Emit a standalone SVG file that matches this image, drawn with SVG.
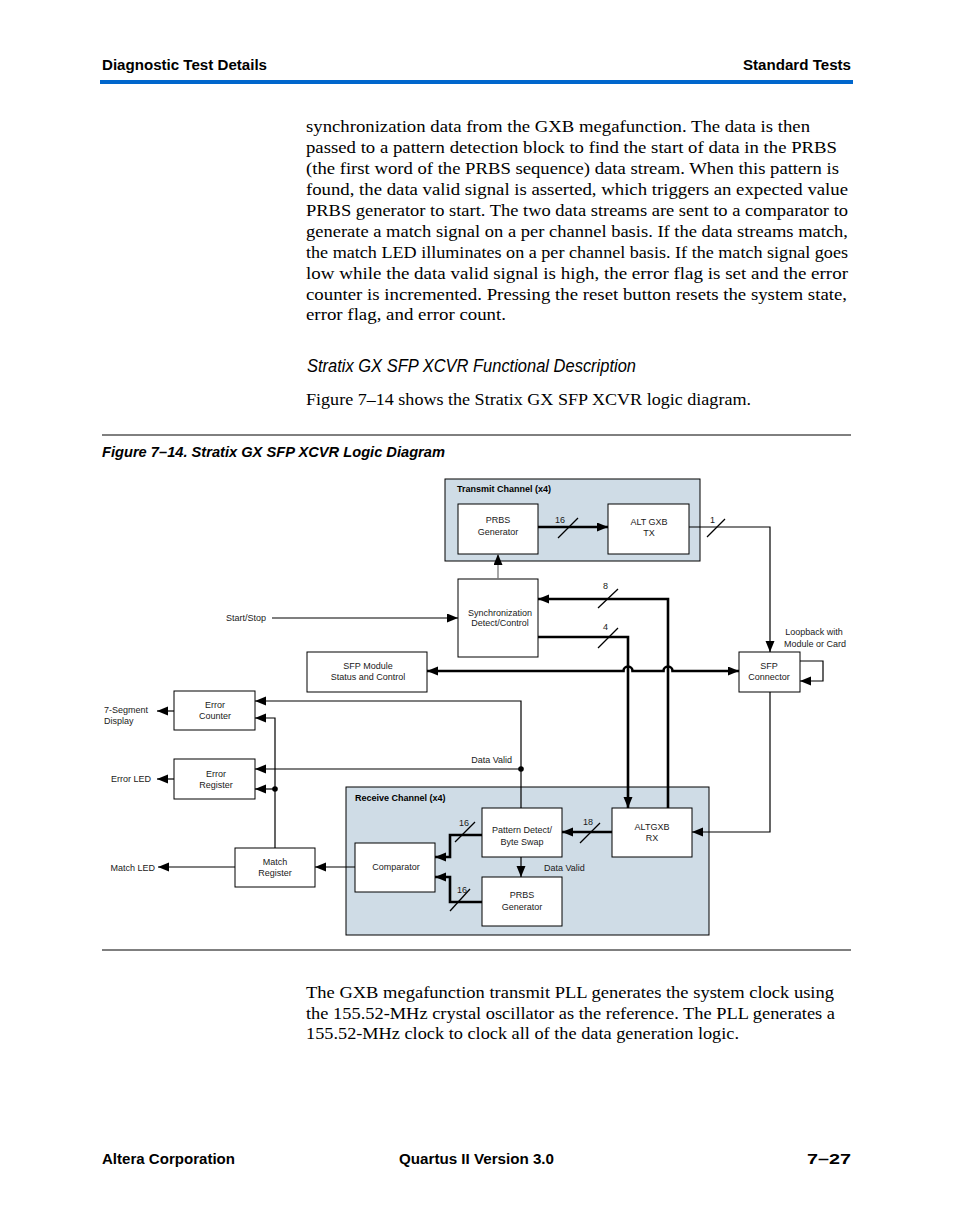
<svg xmlns="http://www.w3.org/2000/svg" width="954" height="1227" viewBox="0 0 954 1227">
<style>
.hdr{font-family:"Liberation Sans",Arial,sans-serif;font-weight:bold;font-size:14px;fill:#000}
.body{font-family:"Liberation Serif","Times New Roman",serif;font-size:16.5px;fill:#000}
.lbl{font-family:"Liberation Sans",Arial,sans-serif;font-size:9px;fill:#1a1a1a}
.lblb{font-family:"Liberation Sans",Arial,sans-serif;font-size:9px;font-weight:bold;fill:#000}
.box{fill:#fff;stroke:#000;stroke-width:1}
.chan{fill:#cfdce6;stroke:#000;stroke-width:1}
.thin{fill:none;stroke:#000;stroke-width:1.2}
.thick{fill:none;stroke:#000;stroke-width:2.6}
.slash{fill:none;stroke:#000;stroke-width:1.3}
</style>
<defs>
<marker id="ah" markerUnits="userSpaceOnUse" markerWidth="12" markerHeight="10" refX="11" refY="4.5" orient="auto-start-reverse" viewBox="0 0 12 10">
<path d="M0,0 L11,4.5 L0,9 z" fill="#000"/>
</marker>
</defs>
<rect width="954" height="1227" fill="#fff"/>

<!-- header -->
<text class="hdr" x="102" y="70" textLength="165" lengthAdjust="spacingAndGlyphs">Diagnostic Test Details</text>
<text class="hdr" x="851" y="70" text-anchor="end" textLength="108" lengthAdjust="spacingAndGlyphs">Standard Tests</text>
<rect x="100" y="80" width="753" height="4" fill="#0066cc"/>

<!-- body paragraph -->
<g class="body">
<text x="306" y="132" textLength="504" lengthAdjust="spacingAndGlyphs">synchronization data from the GXB megafunction. The data is then</text>
<text x="306" y="153" textLength="531" lengthAdjust="spacingAndGlyphs">passed to a pattern detection block to find the start of data in the PRBS</text>
<text x="306" y="174" textLength="533" lengthAdjust="spacingAndGlyphs">(the first word of the PRBS sequence) data stream. When this pattern is</text>
<text x="306" y="195" textLength="542" lengthAdjust="spacingAndGlyphs">found, the data valid signal is asserted, which triggers an expected value</text>
<text x="306" y="216" textLength="542" lengthAdjust="spacingAndGlyphs">PRBS generator to start. The two data streams are sent to a comparator to</text>
<text x="306" y="237" textLength="542" lengthAdjust="spacingAndGlyphs">generate a match signal on a per channel basis. If the data streams match,</text>
<text x="306" y="258" textLength="542" lengthAdjust="spacingAndGlyphs">the match LED illuminates on a per channel basis. If the match signal goes</text>
<text x="306" y="279" textLength="542" lengthAdjust="spacingAndGlyphs">low while the data valid signal is high, the error flag is set and the error</text>
<text x="306" y="300" textLength="541" lengthAdjust="spacingAndGlyphs">counter is incremented. Pressing the reset button resets the system state,</text>
<text x="306" y="320" textLength="200" lengthAdjust="spacingAndGlyphs">error flag, and error count.</text>
</g>

<text x="307" y="372" font-family="'Liberation Sans',Arial,sans-serif" font-style="italic" font-size="19" textLength="329" lengthAdjust="spacingAndGlyphs">Stratix GX SFP XCVR Functional Description</text>
<text class="body" x="306" y="405" textLength="445" lengthAdjust="spacingAndGlyphs">Figure 7–14 shows the Stratix GX SFP XCVR logic diagram.</text>

<line x1="102" y1="435" x2="851" y2="435" stroke="#000" stroke-width="1"/>
<text x="102" y="457" font-family="'Liberation Sans',Arial,sans-serif" font-style="italic" font-weight="bold" font-size="15" textLength="343" lengthAdjust="spacingAndGlyphs">Figure 7–14. Stratix GX SFP XCVR Logic Diagram</text>

<!-- channel containers -->
<g id="transmit-channel">
<rect class="chan" x="445" y="479" width="255" height="82"/>
<text class="lblb" x="457" y="492">Transmit Channel (x4)</text>
</g>
<g id="receive-channel">
<rect class="chan" x="346" y="787" width="363" height="148"/>
<text class="lblb" x="355" y="801">Receive Channel (x4)</text>
</g>

<!-- nodes -->
<g id="tx-prbs-generator">
<rect class="box" x="458" y="504" width="80" height="50"/>
<text class="lbl" x="498" y="523" text-anchor="middle">PRBS</text>
<text class="lbl" x="498" y="535" text-anchor="middle">Generator</text>
</g>
<g id="alt-gxb-tx">
<rect class="box" x="608" y="504" width="81" height="50"/>
<text class="lbl" x="649" y="525" text-anchor="middle">ALT GXB</text>
<text class="lbl" x="649" y="536" text-anchor="middle">TX</text>
</g>
<g id="sync-detect">
<rect class="box" x="458" y="579" width="80" height="78"/>
<text class="lbl" x="500" y="616" text-anchor="middle">Synchronization</text>
<text class="lbl" x="500" y="626" text-anchor="middle">Detect/Control</text>
</g>
<g id="sfp-module">
<rect class="box" x="307" y="652" width="120" height="40"/>
<text class="lbl" x="368" y="669" text-anchor="middle">SFP Module</text>
<text class="lbl" x="368" y="680" text-anchor="middle">Status and Control</text>
</g>
<g id="sfp-connector">
<rect class="box" x="739" y="652" width="61" height="40"/>
<text class="lbl" x="769" y="669" text-anchor="middle">SFP</text>
<text class="lbl" x="769" y="680" text-anchor="middle">Connector</text>
</g>
<g id="error-counter">
<rect class="box" x="174" y="691" width="81" height="39"/>
<text class="lbl" x="215" y="708" text-anchor="middle">Error</text>
<text class="lbl" x="215" y="719" text-anchor="middle">Counter</text>
</g>
<g id="error-register">
<rect class="box" x="174" y="759" width="81" height="40"/>
<text class="lbl" x="216" y="777" text-anchor="middle">Error</text>
<text class="lbl" x="216" y="788" text-anchor="middle">Register</text>
</g>
<g id="match-register">
<rect class="box" x="235" y="848" width="80" height="39"/>
<text class="lbl" x="275" y="865" text-anchor="middle">Match</text>
<text class="lbl" x="275" y="876" text-anchor="middle">Register</text>
</g>
<g id="comparator">
<rect class="box" x="355" y="843" width="80" height="49"/>
<text class="lbl" x="396" y="870" text-anchor="middle">Comparator</text>
</g>
<g id="pattern-detect">
<rect class="box" x="482" y="808" width="80" height="49"/>
<text class="lbl" x="522" y="833" text-anchor="middle">Pattern Detect/</text>
<text class="lbl" x="522" y="845" text-anchor="middle">Byte Swap</text>
</g>
<g id="altgxb-rx">
<rect class="box" x="612" y="808" width="80" height="49"/>
<text class="lbl" x="652" y="830" text-anchor="middle">ALTGXB</text>
<text class="lbl" x="652" y="841" text-anchor="middle">RX</text>
</g>
<g id="rx-prbs-generator">
<rect class="box" x="482" y="877" width="80" height="49"/>
<text class="lbl" x="522" y="898" text-anchor="middle">PRBS</text>
<text class="lbl" x="522" y="910" text-anchor="middle">Generator</text>
</g>

<!-- connectors -->
<g id="connectors">
<line class="thick" x1="538" y1="527" x2="608" y2="527" marker-end="url(#ah)"/>
<line class="slash" x1="558" y1="538" x2="578" y2="518"/>
<text class="lbl" x="555" y="523">16</text>
<path class="thin" d="M689,527 H770 V652" marker-end="url(#ah)"/>
<line class="slash" x1="707" y1="537" x2="725" y2="519"/>
<text class="lbl" x="710" y="523">1</text>
<line x1="498" y1="579" x2="498" y2="554" stroke="#777" stroke-width="1.3" marker-end="url(#ah)"/>
<text class="lbl" x="266" y="621" text-anchor="end">Start/Stop</text>
<line class="thin" x1="272" y1="618" x2="458" y2="618" marker-end="url(#ah)"/>
<path class="thick" d="M668,808 V599 H538" marker-end="url(#ah)"/>
<line class="slash" x1="598" y1="608" x2="618" y2="589"/>
<text class="lbl" x="603" y="589">8</text>
<path class="thick" d="M538,637 H628 V808" marker-end="url(#ah)"/>
<line class="slash" x1="598" y1="648" x2="618" y2="628"/>
<text class="lbl" x="603" y="630">4</text>
<path class="thick" d="M427,671 H623.5 A4.5,4.5 0 0 1 632.5,671 H663.5 A4.5,4.5 0 0 1 672.5,671 H739" marker-start="url(#ah)" marker-end="url(#ah)"/>
<path class="thin" d="M800,661 H823 V681 H800" marker-end="url(#ah)"/>
<text class="lbl" x="814" y="635" text-anchor="middle">Loopback with</text>
<text class="lbl" x="815" y="647" text-anchor="middle">Module or Card</text>
<path class="thin" d="M770,692 V832 H692" marker-end="url(#ah)"/>
<line class="thick" x1="612" y1="832" x2="562" y2="832" marker-end="url(#ah)"/>
<line class="slash" x1="580" y1="843" x2="600" y2="823"/>
<text class="lbl" x="583" y="825">18</text>
<path class="thick" d="M482,835 H450 V857 H435" marker-end="url(#ah)"/>
<line class="slash" x1="455" y1="842" x2="475" y2="822"/>
<text class="lbl" x="459" y="826">16</text>
<path class="thick" d="M482,902 H450 V877 H435" marker-end="url(#ah)"/>
<line class="slash" x1="450" y1="911" x2="470" y2="889"/>
<text class="lbl" x="457" y="893">16</text>
<line class="thin" x1="521" y1="857" x2="521" y2="877" marker-end="url(#ah)"/>
<text class="lbl" x="544" y="871">Data Valid</text>
<path class="thin" d="M521,808 V701 H255" marker-end="url(#ah)"/>
<path class="thin" d="M521,769 H255" marker-end="url(#ah)"/>
<circle cx="521" cy="769" r="2.8" fill="#000"/>
<text class="lbl" x="512" y="763" text-anchor="end">Data Valid</text>
<line class="thin" x1="355" y1="867" x2="315" y2="867" marker-end="url(#ah)"/>
<path class="thin" d="M275,848 V718 H255" marker-end="url(#ah)"/>
<line class="thin" x1="275" y1="789" x2="255" y2="789" marker-end="url(#ah)"/>
<circle cx="275" cy="789" r="2.8" fill="#000"/>
<line class="thin" x1="174" y1="711" x2="157" y2="711" marker-end="url(#ah)"/>
<text class="lbl" x="104" y="713">7-Segment</text>
<text class="lbl" x="104" y="724">Display</text>
<line class="thin" x1="174" y1="779" x2="157" y2="779" marker-end="url(#ah)"/>
<text class="lbl" x="151" y="782" text-anchor="end">Error LED</text>
<line class="thin" x1="235" y1="867" x2="158" y2="867" marker-end="url(#ah)"/>
<text class="lbl" x="155" y="871" text-anchor="end">Match LED</text>
</g>

<line x1="102" y1="950" x2="851" y2="950" stroke="#000" stroke-width="1"/>

<g class="body">
<text x="306" y="998" textLength="528" lengthAdjust="spacingAndGlyphs">The GXB megafunction transmit PLL generates the system clock using</text>
<text x="306" y="1019" textLength="529" lengthAdjust="spacingAndGlyphs">the 155.52-MHz crystal oscillator as the reference. The PLL generates a</text>
<text x="306" y="1039" textLength="433" lengthAdjust="spacingAndGlyphs">155.52-MHz clock to clock all of the data generation logic.</text>
</g>

<text class="hdr" x="102" y="1164" textLength="133" lengthAdjust="spacingAndGlyphs">Altera Corporation</text>
<text class="hdr" x="399" y="1164" textLength="155" lengthAdjust="spacingAndGlyphs">Quartus II Version 3.0</text>
<text class="hdr" x="851" y="1164" text-anchor="end" textLength="44" lengthAdjust="spacingAndGlyphs">7–27</text>
</svg>
